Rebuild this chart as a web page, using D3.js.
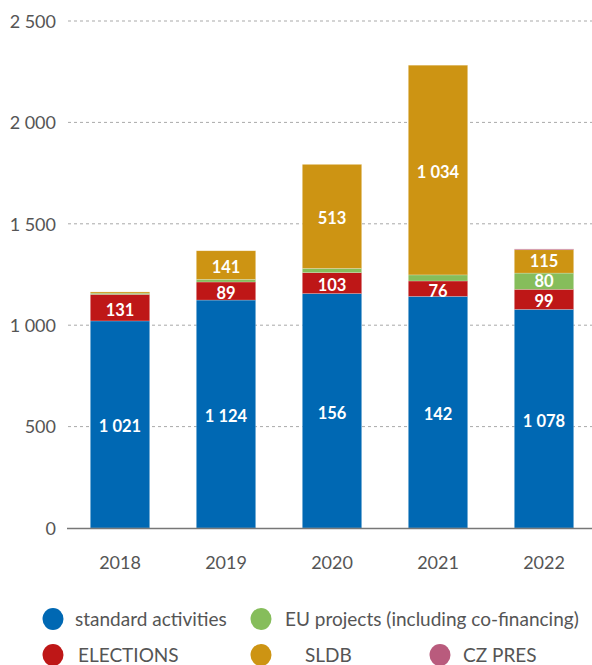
<!DOCTYPE html>
<html><head><meta charset="utf-8">
<script src="https://cdn.jsdelivr.net/npm/d3@7"></script>
<style>
html,body{margin:0;padding:0;background:#fff;}
svg{display:block;font-family:"Open Sans","Noto Sans",sans-serif;}
</style></head>
<body><svg id="c" width="592" height="665"></svg>
<script>
const years = ["2018","2019","2020","2021","2022"];
const standardActivities = [1021, 1124, 1156, 1142, 1078];
const standardLabels = ["1 021", "1 124", "156", "142", "1 078"];
const elections = [131, 89, 103, 76, 99];
const euProjects = [6, 13, 21, 30, 80];
const sldb = [6, 141, 513, 1034, 115];
const czPres = [0, 0, 0, 0, 4];
const seriesNames = ["standard activities", "ELECTIONS", "EU projects (including co-financing)", "SLDB", "CZ PRES"];
const seriesColors = ["#0068b3", "#be1717", "#86bd5b", "#cd9413", "#b95b7d"];
const yTicks = [0, 500, 1000, 1500, 2000, 2500];
const labelShown = [true, true, true, true, false];

const seriesValues = [standardActivities, elections, euProjects, sldb, czPres];
const keys = ["s0","s1","s2","s3","s4"];
const rows = years.map((y,i)=>{const o={year:y,i:i}; keys.forEach((k,j)=>o[k]=seriesValues[j][i]); return o;});
const stacked = d3.stack().keys(keys)(rows);

const svg = d3.select("#c");
const x = d3.scaleBand().domain(years).range([67, 597]).paddingInner(0.44).paddingOuter(0.22);
const y = d3.scaleLinear().domain([0, 2500]).range([528, 21]);
const fmt = v => d3.format(",")(v).replace(/,/g, " ");
const lightFont = "Lato, 'Open Sans', sans-serif";

// gridlines
svg.append("g").selectAll("line").data(yTicks.filter(t=>t>0)).join("line")
  .attr("x1", 68).attr("x2", 592).attr("y1", d=>y(d)).attr("y2", d=>y(d))
  .attr("stroke", "#a9a9a9").attr("stroke-width", 1).attr("stroke-dasharray", "3,3");

// y axis labels
const yAxis = d3.axisLeft(y).tickValues(yTicks).tickFormat(fmt).tickSize(0).tickPadding(0);
const ya = svg.append("g").attr("transform","translate(56,0)").call(yAxis);
ya.select(".domain").remove();
ya.selectAll("text").attr("fill","#555").attr("font-size", 18).attr("font-family", lightFont).attr("dy","0.35em");

// bars
const g = svg.append("g");
stacked.forEach((s, j)=>{
  g.append("g").selectAll("rect").data(s).join("rect")
    .attr("x", d=>x(d.data.year)).attr("width", x.bandwidth())
    .attr("y", d=>y(d[1])).attr("height", d=>Math.max(0, y(d[0]) - y(d[1])))
    .attr("fill", seriesColors[j])
    .attr("stroke", d=> (d[1]-d[0])>0 ? "rgba(255,255,255,0.35)" : "none").attr("stroke-width", 0.6);
});

// value labels with minimal vertical separation
const labelSize = 16.5;
const minGap = labelSize * 1.22;
const labels = [];
years.forEach((yr, i)=>{
  let prevY = Infinity;
  stacked.forEach((s, j)=>{
    if(!labelShown[j]) return;
    const d = s[i];
    if((d[1]-d[0]) < 60) return;
    let ly = y((d[0]+d[1])/2) + 2;
    if(prevY - ly < minGap) ly = prevY - minGap;
    prevY = ly;
    labels.push({x: x(yr)+x.bandwidth()/2, y: ly, text: j===0 ? standardLabels[i] : fmt(d[1]-d[0])});
  });
});
g.append("g").selectAll("text").data(labels).join("text")
  .attr("x", d=>d.x).attr("y", d=>d.y)
  .attr("dy","0.36em").attr("text-anchor","middle")
  .attr("fill","#fff").attr("font-weight","bold").attr("font-size", labelSize)
  .attr("font-family", lightFont)
  .text(d=>d.text);

// baseline
svg.append("line").attr("x1", 67).attr("x2", 592).attr("y1", y(0)+0.5).attr("y2", y(0)+0.5)
  .attr("stroke","#777").attr("stroke-width",1.3);

// x axis
const xAxis = d3.axisBottom(x).tickSize(0).tickPadding(0);
const xa = svg.append("g").attr("transform","translate(0,563)").call(xAxis);
xa.select(".domain").remove();
xa.selectAll("text").attr("fill","#555").attr("font-size",18).attr("font-family", lightFont).attr("dy","0.35em");

// legend
const legendItems = [
  {s:0, cx:53, cy:619, tx:75},
  {s:2, cx:261, cy:619, tx:285},
  {s:1, cx:53, cy:655, tx:78},
  {s:3, cx:261, cy:655, tx:305},
  {s:4, cx:440, cy:655, tx:463}
];
const lg = svg.append("g");
legendItems.forEach(it=>{
  lg.append("ellipse").attr("cx", it.cx).attr("cy", it.cy).attr("rx", 10.5).attr("ry", 11)
    .attr("fill", seriesColors[it.s]);
  lg.append("text").attr("x", it.tx).attr("y", it.cy).attr("dy","0.35em")
    .attr("fill","#555").attr("font-size",19).attr("font-family", lightFont)
    .text(seriesNames[it.s]);
});
</script></body></html>
